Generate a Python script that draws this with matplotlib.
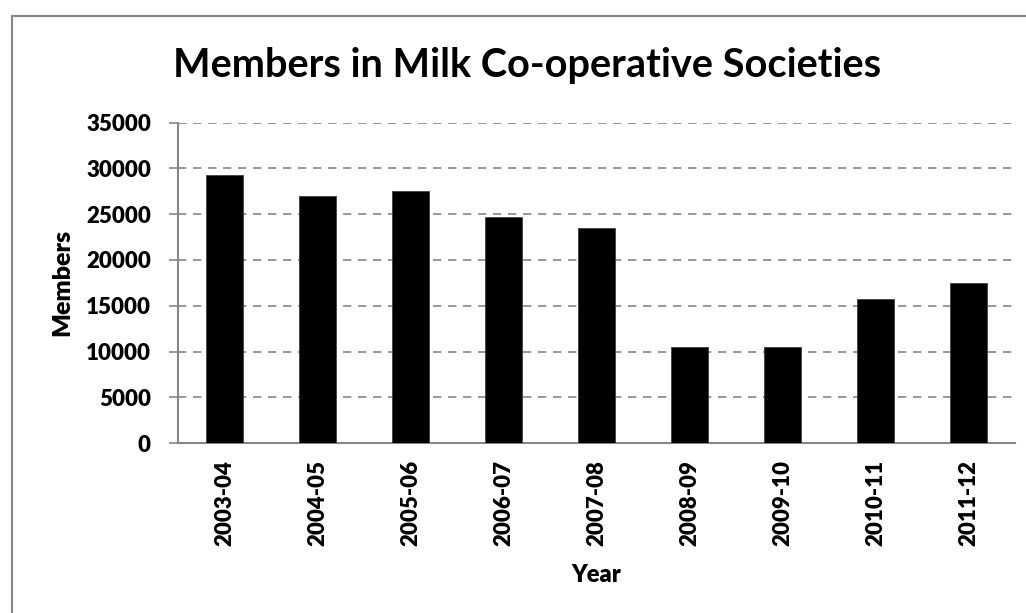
import matplotlib
matplotlib.use("Agg")
import matplotlib.pyplot as plt
from matplotlib.patches import Rectangle

plt.rcParams['font.family'] = ['Lato', 'DejaVu Sans']
plt.rcParams['font.weight'] = 'bold'

years = ["2003-04", "2004-05", "2005-06", "2006-07", "2007-08",
         "2008-09", "2009-10", "2010-11", "2011-12"]
members = [29300, 27000, 27500, 24650, 23500, 10450, 10450, 15700, 17500]
yticks = [0, 5000, 10000, 15000, 20000, 25000, 30000, 35000]

grey = '#868686'
w = 'heavy'

fig = plt.figure(figsize=(10.26, 6.13), dpi=100)
ax = fig.add_axes([0.1735, 0.2773, 0.8158, 0.5225])

ax.bar(range(len(years)), members, width=0.4, color='black', edgecolor='#404040',
       linewidth=0.6, zorder=3)

ax.set_xlim(-0.5, len(years) - 0.5)
ax.set_ylim(0, 35000)
ax.set_yticks(yticks)
ax.set_yticklabels([str(v) for v in yticks], fontsize=16, fontweight=w)
ax.set_xticks(range(len(years)))
ax.set_xticklabels(years, rotation=90, fontsize=16, fontweight=w)

ax.yaxis.grid(True, linestyle=(0, (5, 4)), color=grey, linewidth=1.2)
ax.set_axisbelow(True)
for s in ['top', 'right']:
    ax.spines[s].set_visible(False)
for s in ['left', 'bottom']:
    ax.spines[s].set_color(grey)
    ax.spines[s].set_linewidth(1.5)
ax.tick_params(axis='y', length=6.5, width=1.2, color=grey, pad=13)
ax.tick_params(axis='x', length=0, pad=12)

ax.set_xlabel("Year", fontsize=17, fontweight=w, labelpad=13)
ax.set_ylabel("Members", fontsize=18, fontweight=w, va='center')
ax.yaxis.set_label_coords((62.5 - 178) / 837, 0.5)

fig.text(527 / 1026, 1 - 77 / 613, "Members in Milk Co-operative Societies",
         fontsize=28.6, fontweight='bold', ha='center', va='baseline')

fig.patches.append(Rectangle((11.5 / 1026, -0.05), 1.1, 1 - 16 / 613 + 0.05,
                             transform=fig.transFigure, fill=False,
                             edgecolor=grey, linewidth=1.5))

fig.savefig("out.png", dpi=100)
